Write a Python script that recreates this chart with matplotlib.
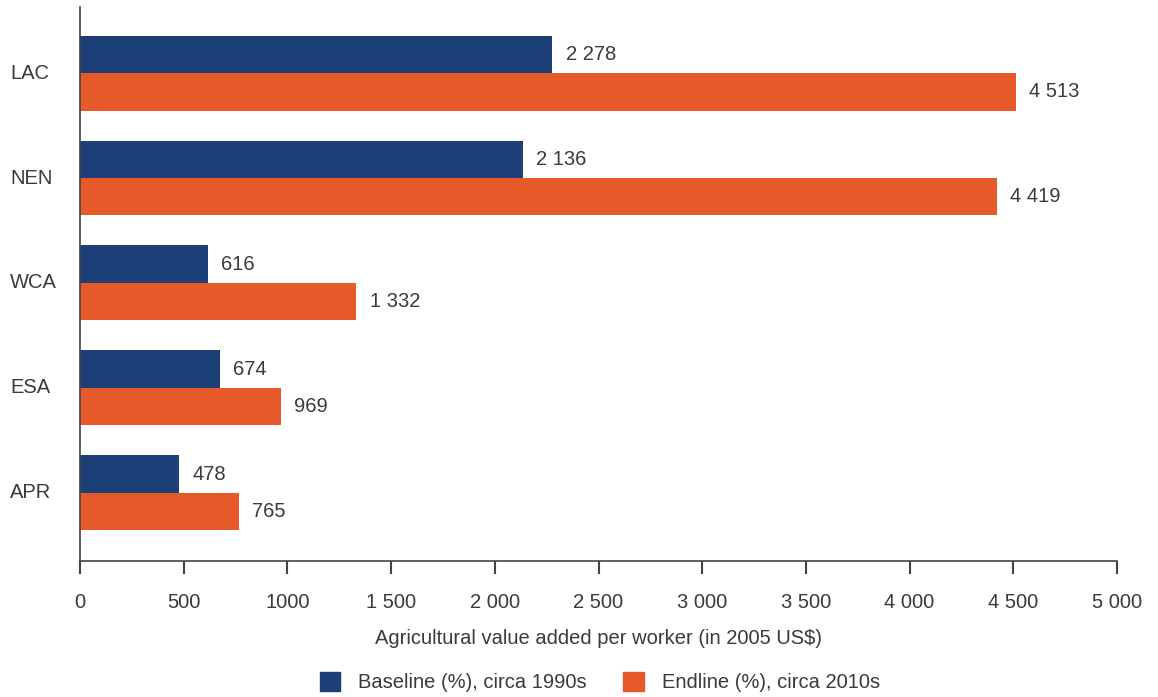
import matplotlib
matplotlib.use("Agg")
import matplotlib.pyplot as plt
from matplotlib.patches import Patch
from matplotlib.transforms import blended_transform_factory

plt.rcParams['font.family'] = ['Liberation Sans', 'DejaVu Sans']

categories = ["LAC", "NEN", "WCA", "ESA", "APR"]
baseline = [2278, 2136, 616, 674, 478]
endline = [4513, 4419, 1332, 969, 765]
baseline_labels = ["2 278", "2 136", "616", "674", "478"]
endline_labels = ["4 513", "4 419", "1 332", "969", "765"]
xticks = [0, 500, 1000, 1500, 2000, 2500, 3000, 3500, 4000, 4500, 5000]
xtick_labels = ["0", "500", "1000", "1 500", "2 000", "2 500", "3 000", "3 500", "4 000", "4 500", "5 000"]

blue = "#1d3f77"
orange = "#e55a28"
txt = "#3a3a3a"
fs = 14.5

fig = plt.figure(figsize=(11.58, 6.97), dpi=100)
ax = fig.add_axes([80/1158, (697-561)/697, (1117-80)/1158, (561-7)/697])

h = 0.357
y = list(range(len(categories)))
ax.barh([i - h/2 for i in y], baseline, height=h, color=blue, label="Baseline (%), circa 1990s")
ax.barh([i + h/2 for i in y], endline, height=h, color=orange, label="Endline (%), circa 2010s")

for i in y:
    ax.text(baseline[i] + 65, i - h/2, baseline_labels[i], va='center', ha='left', fontsize=fs, color=txt)
    ax.text(endline[i] + 65, i + h/2, endline_labels[i], va='center', ha='left', fontsize=fs, color=txt)

ax.set_ylim(4.65, -0.63)
ax.set_xlim(0, 5000)
ax.set_yticks(y)
ax.set_yticklabels([])
ax.tick_params(axis='y', length=0)
trans = blended_transform_factory(fig.transFigure, ax.transData)
for i, c in enumerate(categories):
    ax.text(10/1158, i, c, transform=trans, ha='left', va='center', fontsize=fs, color=txt)

ax.set_xticks(xticks)
ax.set_xticklabels(xtick_labels, fontsize=fs, color=txt)
ax.tick_params(axis='x', length=9, width=1.5, color='#444444', pad=14, direction='out')
for s in ['top', 'right']:
    ax.spines[s].set_visible(False)
for s in ['left', 'bottom']:
    ax.spines[s].set_color('#444444')
    ax.spines[s].set_linewidth(1.2)
ax.set_xlabel("Agricultural value added per worker (in 2005 US$)", fontsize=fs, color=txt, labelpad=12)

handles = [Patch(color=blue), Patch(color=orange)]
fig.legend(handles, ["Baseline (%), circa 1990s", "Endline (%), circa 2010s"],
           loc='center', bbox_to_anchor=(600/1158, 1 - 682/697), ncol=2, frameon=False,
           fontsize=fs, handlelength=1.0, handleheight=1.1, columnspacing=1.8, handletextpad=0.9,
           labelcolor=txt)

fig.savefig("out.png", dpi=100)
